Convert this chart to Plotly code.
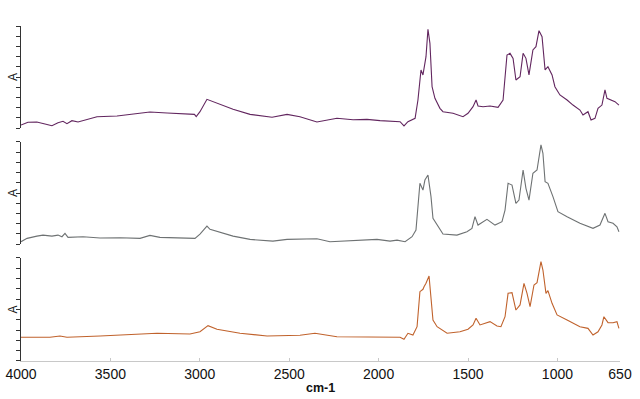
import plotly.graph_objects as go

# Wavenumbers (cm-1) and absorbance (normalised units) for each spectrum
wn_top = [4000, 3961, 3911, 3866, 3827, 3793, 3765, 3743, 3715, 3681, 3642, 3575, 3463, 3374, 3279, 3183,
          3030, 3020, 2999, 2960, 2932, 2904, 2814, 2719, 2596, 2512, 2440, 2345, 2233, 2143, 2065, 1992,
          1920, 1880, 1858, 1836, 1796, 1780, 1763, 1752, 1735, 1724, 1713, 1701, 1685, 1657, 1640, 1584,
          1528, 1500, 1472, 1455, 1444, 1416, 1377, 1332, 1304, 1282, 1265, 1248, 1232, 1209, 1192, 1176,
          1159, 1137, 1120, 1103, 1086, 1069, 1053, 1030, 1014, 986, 946, 913, 874, 857, 829, 812, 790,
          773, 751, 734, 723, 695, 678, 656]
a_top = [0.029, 0.056, 0.059, 0.039, 0.023, 0.052, 0.066, 0.042, 0.072, 0.059, 0.078, 0.111, 0.118, 0.137, 0.157, 0.147,
         0.134, 0.111, 0.160, 0.281, 0.262, 0.248, 0.183, 0.134, 0.105, 0.134, 0.111, 0.059, 0.095, 0.081, 0.085, 0.072,
         0.062, 0.062, 0.020, 0.062, 0.095, 0.275, 0.569, 0.520, 0.699, 0.968, 0.830, 0.405, 0.291, 0.193, 0.160, 0.144,
         0.111, 0.144, 0.209, 0.275, 0.216, 0.209, 0.216, 0.203, 0.275, 0.716, 0.732, 0.683, 0.471, 0.503, 0.732, 0.683,
         0.520, 0.765, 0.797, 0.954, 0.895, 0.569, 0.601, 0.520, 0.405, 0.324, 0.275, 0.225, 0.176, 0.127, 0.160, 0.078, 0.095,
         0.193, 0.225, 0.373, 0.291, 0.275, 0.258, 0.225]

wn_mid = [4000, 3966, 3911, 3877, 3827, 3793, 3771, 3754, 3737, 3653, 3558, 3446, 3334, 3279, 3223, 3094, 3027,
          2999, 2960, 2943, 2814, 2719, 2591, 2512, 2345, 2272, 2160, 2009, 1936, 1897, 1852, 1813, 1791,
          1769, 1752, 1741, 1724, 1707, 1696, 1668, 1640, 1562, 1506, 1478, 1461, 1444, 1394, 1349, 1310,
          1293, 1276, 1254, 1232, 1215, 1192, 1176, 1159, 1137, 1114, 1092, 1081, 1069, 1053, 1025, 997,
          946, 874, 801, 762, 734, 717, 689, 667, 656]
a_mid = [0.023, 0.056, 0.078, 0.088, 0.078, 0.088, 0.072, 0.105, 0.066, 0.072, 0.059, 0.062, 0.056, 0.085, 0.066, 0.062, 0.056,
         0.098, 0.176, 0.144, 0.078, 0.046, 0.029, 0.046, 0.052, 0.023, 0.032, 0.046, 0.029, 0.039, 0.023, 0.072, 0.137,
         0.595, 0.529, 0.627, 0.676, 0.464, 0.252, 0.170, 0.098, 0.088, 0.121, 0.154, 0.268, 0.186, 0.242, 0.186, 0.219,
         0.333, 0.595, 0.578, 0.399, 0.431, 0.725, 0.546, 0.431, 0.693, 0.725, 0.971, 0.889, 0.611, 0.595, 0.464, 0.317,
         0.268, 0.203, 0.154, 0.186, 0.301, 0.219, 0.203, 0.170, 0.121]

wn_bot = [4000, 3838, 3782, 3743, 3558, 3374, 3239, 3055, 2999, 2954, 2904, 2775, 2624, 2440, 2356, 2233,
          2065, 1992, 1880, 1858, 1836, 1808, 1785, 1769, 1752, 1746, 1735, 1718, 1707, 1696, 1673, 1617,
          1545, 1500, 1472, 1455, 1433, 1377, 1338, 1316, 1293, 1276, 1254, 1232, 1209, 1187, 1170, 1153,
          1131, 1114, 1092, 1081, 1064, 1053, 1030, 1002, 946, 874, 829, 801, 773, 751, 740, 717, 689, 667, 656]
a_bot = [0.230, 0.230, 0.243, 0.230, 0.243, 0.259, 0.269, 0.262, 0.284, 0.343, 0.308, 0.269, 0.243, 0.250, 0.269, 0.236,
         0.236, 0.230, 0.230, 0.211, 0.269, 0.252, 0.333, 0.673, 0.696, 0.721, 0.754, 0.825, 0.592, 0.398, 0.333, 0.269,
         0.284, 0.308, 0.350, 0.415, 0.350, 0.382, 0.340, 0.333, 0.430, 0.657, 0.663, 0.495, 0.544, 0.754, 0.657, 0.527,
         0.738, 0.760, 0.964, 0.883, 0.657, 0.683, 0.560, 0.447, 0.398, 0.333, 0.317, 0.252, 0.284, 0.350, 0.430, 0.372, 0.372, 0.382, 0.317]

x_ticks = [4000, 3500, 3000, 2500, 2000, 1500, 1000, 650]
x_title = "cm-1"
y_title = "A"

colors = ["#62265f", "#6e7273", "#c0622c"]
series = [(wn_top, a_top), (wn_mid, a_mid), (wn_bot, a_bot)]
domains = [[0.6955, 1.0], [0.349, 0.654], [0.0, 0.3075]]

fig = go.Figure()
for i, ((wx, wy), c) in enumerate(zip(series, colors)):
    sfx = "" if i == 0 else str(i + 1)
    fig.add_trace(go.Scatter(x=wx, y=wy, mode="lines", line=dict(color=c, width=1.1),
                             xaxis="x" + sfx, yaxis="y" + sfx, showlegend=False, hoverinfo="skip"))

common_y = dict(range=[0, 1], tick0=0, dtick=0.1, showticklabels=False, ticks="outside", ticklen=4,
                tickcolor="#333333", showline=True, linecolor="#333333", linewidth=1, showgrid=False,
                zeroline=False, automargin=False)
common_x = dict(range=[4000, 650], showgrid=False, zeroline=False, automargin=False)

layout = dict(
    width=640, height=399,
    margin=dict(l=21, r=20, t=26, b=38),
    plot_bgcolor="white", paper_bgcolor="white",
    font=dict(family="Liberation Sans, Arial, sans-serif", color="#000000"),
)
for i in range(3):
    sfx = "" if i == 0 else str(i + 1)
    layout["yaxis" + sfx] = dict(common_y, domain=domains[i], anchor="x" + sfx)
    if i < 2:
        layout["xaxis" + sfx] = dict(common_x, anchor="y" + sfx, visible=False, matches="x3")
    else:
        layout["xaxis" + sfx] = dict(common_x, anchor="y" + sfx, tickvals=x_ticks,
                                     ticktext=[str(t) for t in x_ticks],
                                     ticks="inside", ticklen=3, tickcolor="#c8c8c8",
                                     showline=True, linecolor="#c8c8c8", linewidth=1,
                                     ticklabelstandoff=0,
                                     tickfont=dict(size=14, color="#111111"))
fig.update_layout(**layout)

fig.add_annotation(text="<b>" + x_title + "</b>", xref="paper", yref="paper", x=0.5, y=0,
                   xanchor="center", yanchor="middle", yshift=-27, showarrow=False,
                   font=dict(size=12.5, color="#111111"))

for i in range(3):
    d = domains[i]
    fig.add_annotation(text=y_title, xref="paper", yref="paper", x=0, y=(d[0] + d[1]) / 2,
                       xanchor="center", yanchor="middle", xshift=-8, textangle=-90,
                       showarrow=False, font=dict(size=12, color="#222222"))

fig.write_html("out.html")
